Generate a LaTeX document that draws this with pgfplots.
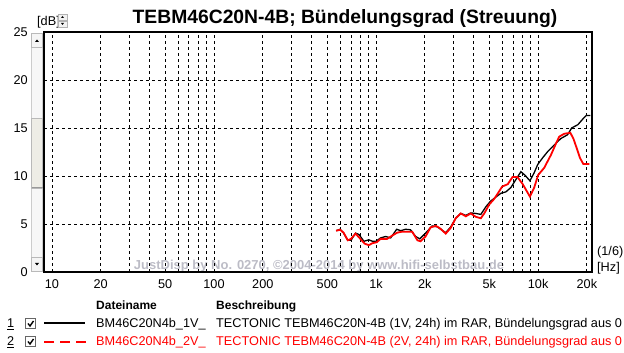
\documentclass[border=0pt]{standalone}
\usepackage{pgfplots}
\pgfplotsset{compat=1.18}
\usepackage{fontspec}
\setmainfont{Liberation Sans}
\definecolor{wm}{RGB}{188,188,198}
\definecolor{thumb}{RGB}{238,237,230}
\newcommand{\f}{\fontsize{12.7}{14}\selectfont}
\newcommand{\fb}{\bfseries\fontsize{12}{14}\selectfont}
\begin{document}
\begin{tikzpicture}
\useasboundingbox (0pt,0pt) rectangle (624pt,353pt);
\clip (0pt,0pt) rectangle (624pt,353pt);
\begin{scope}[x=1pt,y=1pt]
% watermark
\node[text=wm, font=\bfseries\fontsize{13}{15}\selectfont, anchor=center] at (319,87) {JustDisp by No. 0270, \textcopyright2004-2014 by www.hifi-selbstbau.de};
\end{scope}
\begin{axis}[
  at={(44pt,81pt)}, anchor=south west,
  scale only axis, width=548pt, height=240pt,
  xmode=log, xmin=8.93, xmax=21500, ymin=0, ymax=25,
  axis line style={line width=2pt},
  xtick={10,20,50,100,200,500,1000,2000,5000,10000,20000},
  xticklabels={10,20,50,100,200,500,1k,2k,5k,10k,20k},
  minor xtick={30,40,60,70,80,90,300,400,600,700,800,900,3000,4000,6000,7000,8000,9000},
  ytick={0,5,10,15,20,25},
  yticklabels={0,5,10,15,20,25},
  major tick length=0pt, minor tick length=0pt,
  xmajorgrids, xminorgrids, ymajorgrids,
  grid style={black, line width=0.9pt, dash pattern=on 3pt off 3pt},
  minor grid style={black, line width=0.9pt, dash pattern=on 3pt off 3pt},
  xticklabel style={font=\f, inner sep=0pt, anchor=north, yshift=-7.5pt},
  yticklabel style={font=\f, inner sep=0pt, anchor=east, xshift=-16pt},
  clip=true,
]
\addplot[black, line width=1.3pt] coordinates {
(567,4.3) (600,4.45) (630,4.05) (669,3.3) (700,3.3) (747,4.05) (785,3.9) (841,3.2) (903,3.35) (950,3.2) (1000,3.2) (1066,3.55) (1145,3.7) (1230,3.55) (1340,4.45) (1420,4.3) (1520,4.45) (1630,4.4) (1755,3.7) (1860,3.45) (2020,4.05) (2220,4.8) (2390,4.7) (2530,4.4) (2690,4.1) (2890,4.7) (3100,5.6) (3330,6.1) (3580,5.9) (3840,6.15) (4120,6.1) (4430,6.0) (4760,6.8) (5100,7.4) (5480,7.8) (5890,8.2) (6330,8.35) (6790,8.8) (7300,9.65) (7830,10.45) (8270,10.1) (8900,9.5) (9460,10.35) (9940,11.2) (10670,11.9) (11460,12.55) (12600,13.25) (13800,13.9) (15200,14.3) (16100,15.0) (17600,15.35) (18900,15.95) (19800,16.3) (21000,16.3)
};
\addplot[red, line width=1.8pt] coordinates {
(567,4.3) (600,4.4) (630,4.1) (669,3.3) (700,3.45) (747,4.0) (810,3.35) (850,2.95) (903,2.8) (950,3.0) (1010,3.1) (1066,3.45) (1170,3.45) (1260,3.8) (1350,4.1) (1450,4.2) (1670,4.2) (1800,3.3) (1880,3.2) (2020,3.7) (2170,4.65) (2340,4.8) (2480,4.55) (2690,4.0) (2890,4.6) (3100,5.6) (3330,6.1) (3580,5.8) (3840,6.1) (4120,5.75) (4430,5.6) (4650,6.1) (5000,7.05) (5350,7.6) (5600,8.1) (6000,8.9) (6500,9.15) (6950,9.9) (7450,9.9) (8000,9.2) (8900,7.85) (9460,8.8) (10000,10.1) (10900,10.85) (12000,12.2) (12900,13.4) (13500,14.1) (14500,14.4) (15800,14.5) (16500,13.9) (17300,12.9) (18100,11.9) (19000,11.25) (20700,11.25)
};
\end{axis}
\begin{scope}[x=1pt,y=1pt]
% title
\node[anchor=base, font=\bfseries\fontsize{19.3}{22}\selectfont] at (345,329) {TEBM46C20N-4B; Bündelungsgrad (Streuung)};
\node[anchor=base west, font=\f, inner sep=0pt] at (37,327) {[dB]};
% spinner
\draw[gray!60, fill=gray!10] (58,333) rectangle (67,339);
\draw[gray!60, fill=gray!10] (58,326) rectangle (67,332);
\fill[black] (61,335) -- (64,335) -- (62.5,337) -- cycle;
\fill[black] (61,330) -- (64,330) -- (62.5,328) -- cycle;
% scrollbar
\draw[gray!40, fill=gray!6] (31.5,82) rectangle (42.5,320);
\draw[gray!55, fill=thumb] (31.5,165) rectangle (42.5,235);
\draw[gray!80, line width=1pt] (31.5,165) -- (42.5,165);
\draw[gray!55, fill=gray!8] (31.5,306) rectangle (42.5,320);
\fill[black] (35,311) -- (39,311) -- (37,313.5) -- cycle;
\draw[gray!55, fill=gray!8] (31.5,82) rectangle (42.5,96);
\fill[black] (35,90) -- (39,90) -- (37,87.5) -- cycle;
% right unit labels
\node[anchor=base west, font=\f, inner sep=0pt] at (597,97) {(1/6)};
\node[anchor=base west, font=\f, inner sep=0pt] at (597,81) {[Hz]};
% legend
\node[anchor=base west, font=\fb, inner sep=0pt] at (96,43) {Dateiname};
\node[anchor=base west, font=\fb, inner sep=0pt] at (216,43) {Beschreibung};
\node[anchor=base west, font=\f, inner sep=0pt] at (7,25) {\underline{1}};
\node[anchor=base west, font=\f, inner sep=0pt] at (7,7) {\underline{2}};
\foreach \yy in {24,6} {
  \draw[gray!80!black, line width=1.6pt, fill=white] (25.5,\yy+0.5) rectangle (35.5,\yy+10.5);
  \draw[black, line width=1.4pt] (28,\yy+5.5) -- (30,\yy+3) -- (33.5,\yy+8);
}
\draw[black, line width=2pt] (44,29.7) -- (85,29.7);
\draw[red, line width=2.2pt, dash pattern=on 10pt off 6pt] (44,11.3) -- (86,11.3);
\node[anchor=base west, font=\f, inner sep=0pt] at (96,25) {BM46C20N4b\_1V\_};
\node[anchor=base west, font=\f, inner sep=0pt] at (216,25) {TECTONIC TEBM46C20N-4B (1V, 24h) im RAR, Bündelungsgrad aus 0};
\node[anchor=base west, font=\f, inner sep=0pt, text=red] at (96,7) {BM46C20N4b\_2V\_};
\node[anchor=base west, font=\f, inner sep=0pt, text=red] at (216,7) {TECTONIC TEBM46C20N-4B (2V, 24h) im RAR, Bündelungsgrad aus 0};
\end{scope}
\end{tikzpicture}
\end{document}
